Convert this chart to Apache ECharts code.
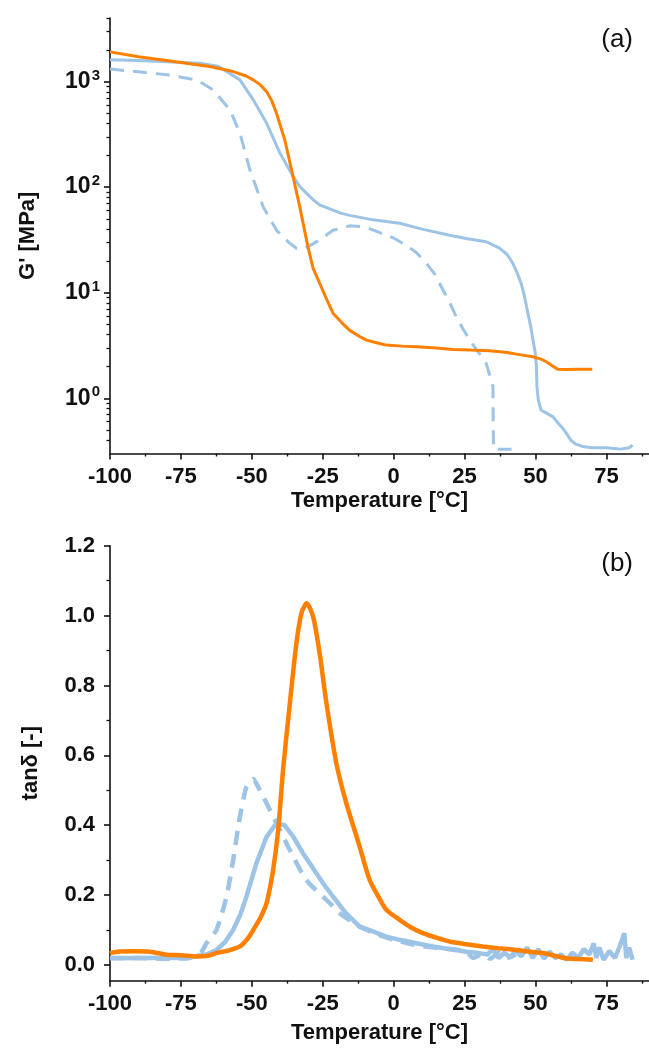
<!DOCTYPE html>
<html><head><meta charset="utf-8">
<script src="https://cdn.jsdelivr.net/npm/echarts@6/dist/echarts.min.js"></script>
<style>html,body{margin:0;padding:0;background:#fff}#c{width:649px;height:1061px}</style>
</head><body><div id="c"></div>
<script>
// ---- tick labels ----
const tempTicks = [-100, -75, -50, -25, 0, 25, 50, 75];
const tempMinorTicks = [-87.5, -62.5, -37.5, -12.5, 12.5, 37.5, 62.5, 87.5];
const gTicks = [1, 10, 100, 1000];
const gMinorTicks = [0.4,0.5,0.6,0.7,0.8,0.9,2,3,4,5,6,7,8,9,20,30,40,50,60,70,80,90,200,300,400,500,600,700,800,900,2000,3000,4000];
const tanTicks = [0, 0.2, 0.4, 0.6, 0.8, 1.0, 1.2];
const tanMinorTicks = [0.1, 0.3, 0.5, 0.7, 0.9, 1.1];

// ---- (a) storage modulus G' [MPa] ----
const gOrangeT = [-100,-90,-80,-70,-64.8,-56.6,-52,-49.5,-47,-44.8,-43,-41.3,-38.4,-36,-33.1,-30.2,-28.4,-26.1,-23.5,-21.4,-18,-15.5,-12,-9.6,-5,-2.6,3,8,15,20.9,27,33.8,40,43.2,46,49.1,52,53.8,56,57.9,60.8,65,70];
const gOrange  = [1911,1720,1580,1450,1388,1244,1130,1038,930,803,660,501,280,146,65,27,17,12.3,8.5,6.4,5.1,4.4,3.85,3.56,3.3,3.19,3.12,3.08,3.0,2.9,2.86,2.82,2.72,2.62,2.55,2.47,2.35,2.22,2.02,1.88,1.87,1.88,1.88];

const gBlueT = [-100,-90,-80,-68.3,-62,-58.9,-54.2,-49.5,-44.8,-40.1,-35.4,-33.1,-28.4,-26.1,-19,-15.5,-7.3,2.1,10,19.7,26,32.6,37.3,40,42,43.5,44.9,46,47.3,48.3,49.1,50,50.3,50.5,51,52,54,56.1,58,59.6,61,62.5,64,66.5,70,75,80,83,84.2];
const gBlue  = [1607,1580,1540,1494,1400,1244,1038,671,404,210,126,101,76,68,57,54,49,45.5,40,35,32.5,30.4,26.4,23,19,15.5,12.3,9.5,6.4,4.8,3.56,2.6,2.0,1.29,0.95,0.77,0.72,0.67,0.58,0.52,0.46,0.4,0.37,0.35,0.34,0.34,0.33,0.34,0.36];

const gBlueDashT = [-100,-90,-80,-69.5,-63.6,-57.7,-54.2,-50.7,-46,-41.3,-37,-34.3,-31.9,-29,-26.1,-21.4,-15.5,-10,-4.9,0,4.5,8,11.5,14.5,17.4,20,22.1,24.5,26.8,30,32.6,34,35,35.1,35.2,37,40,43];
const gBlueDash  = [1312,1240,1158,1038,834,538,324,146,65,39,30,26.4,26,28.5,31.6,39,43,42,37,33,28,24,19,15,10.6,7.8,5.9,4.5,3.56,2.7,2.14,1.6,1.29,0.5,0.33,0.33,0.33,0.33];

// ---- (b) tan delta ----
const tOrangeT = [-100,-97.6,-92,-85.9,-80,-75,-69.5,-65,-62.5,-58,-54.2,-51.5,-49.5,-47,-44.8,-42.5,-40.7,-39,-36.6,-34.3,-32.5,-30.7,-28.4,-26.1,-23.7,-20.2,-16.7,-12,-8.5,-5,-2.6,2.1,6,10.3,15,19.7,25,31.4,37,43.2,48,52.6,56,60.8,65,70.2];
const tOrange  = [0.034,0.038,0.039,0.038,0.029,0.028,0.024,0.027,0.034,0.042,0.053,0.075,0.10,0.135,0.177,0.272,0.387,0.558,0.749,0.92,1.007,1.035,0.997,0.892,0.749,0.577,0.463,0.339,0.244,0.19,0.158,0.129,0.108,0.091,0.078,0.067,0.06,0.053,0.048,0.043,0.038,0.034,0.028,0.019,0.017,0.015];

const tBlueT = [-100,-90,-80,-75,-70.7,-66,-62.5,-59.5,-56.6,-54,-51.9,-48.4,-44.8,-41.3,-38.5,-35.4,-32,-29.6,-25,-21.4,-17,-12,-8.5,-2.6,2.1,8,13.8,20,25.6,30,33,35,37,39,41,43,45,47,49,51,53,55,57,59,61,63,65,67,69,70.5,71.4,72.5,74,76,78,80,81.3,82,83,84.2];
const tBlue  = [0.019,0.02,0.021,0.02,0.024,0.03,0.043,0.065,0.10,0.145,0.196,0.291,0.367,0.406,0.4,0.367,0.32,0.291,0.235,0.196,0.15,0.11,0.10,0.081,0.072,0.062,0.053,0.045,0.038,0.034,0.03,0.045,0.02,0.035,0.022,0.04,0.025,0.05,0.02,0.045,0.018,0.038,0.02,0.03,0.015,0.035,0.02,0.045,0.03,0.062,0.02,0.05,0.015,0.04,0.02,0.06,0.091,0.02,0.05,0.015];

const tBlueDashT = [-100,-90,-80,-72,-68,-66,-62.5,-58.9,-56.6,-54.2,-51.9,-49.5,-47.2,-44.8,-41.3,-36.6,-30.8,-22.5,-19,-12,-5,0,6,12,18,23.2,26,28,31,34,37,40,43];
const tBlueDash  = [0.02,0.02,0.018,0.02,0.035,0.062,0.10,0.196,0.30,0.425,0.51,0.532,0.50,0.463,0.406,0.329,0.243,0.177,0.148,0.11,0.085,0.072,0.06,0.052,0.047,0.043,0.035,0.02,0.03,0.018,0.035,0.02,0.03];

const BLUE = '#9dc3e6', ORANGE = '#ff8000';
const FONT = 'Liberation Sans, Arial, sans-serif';
const zip = (a, b) => a.map((x, i) => [x, b[i]]);

const axisLineStyle = { color: '#111', width: 1.6 };
const boldText = { fontFamily: FONT, fontWeight: 'bold', fontSize: 22, color: '#111' };

function xMain(grid, nameGap) {
  return {
    gridIndex: grid, type: 'value', min: -100, max: 90,
    name: 'Temperature [°C]', nameLocation: 'middle', nameGap: nameGap,
    nameTextStyle: boldText,
    axisLine: { show: true, onZero: false, lineStyle: axisLineStyle },
    axisTick: { show: true, inside: false, length: 6, customValues: tempTicks, lineStyle: { color: '#111', width: 1.6 } },
    axisLabel: { show: true, customValues: tempTicks, margin: 12, fontFamily: FONT, fontWeight: 'bold', fontSize: 22, color: '#111' },
    splitLine: { show: false }
  };
}
function xMinor(grid) {
  return {
    gridIndex: grid, type: 'value', min: -100, max: 90, position: 'bottom',
    axisLine: { show: false, onZero: false },
    axisTick: { show: true, inside: false, length: 3, customValues: tempMinorTicks, lineStyle: { color: '#111', width: 1.4 } },
    axisLabel: { show: false }, splitLine: { show: false }
  };
}

const option = {
  animation: false,
  backgroundColor: '#fff',
  title: [
    { text: '(a)', right: 11, top: 22, textStyle: { fontFamily: FONT, fontWeight: 'normal', fontSize: 26, color: '#111' } },
    { text: '(b)', right: 11, top: 546, textStyle: { fontFamily: FONT, fontWeight: 'normal', fontSize: 26, color: '#111' } }
  ],
  grid: [
    { left: 110, top: 18, width: 541, height: 435.5 },
    { left: 110, top: 545.7, width: 541, height: 435 }
  ],
  xAxis: [ xMain(0, 36), xMinor(0), xMain(1, 41), xMinor(1) ],
  yAxis: [
    {
      gridIndex: 0, type: 'log', logBase: 10, min: 0.3, max: 4000,
      name: "G' [MPa]", nameLocation: 'middle', nameGap: 71, nameTextStyle: boldText,
      axisLine: { show: true, onZero: false, lineStyle: axisLineStyle },
      axisTick: { show: true, inside: false, length: 6, customValues: gTicks, lineStyle: { color: '#111', width: 1.6 } },
      axisLabel: {
        show: true, customValues: gTicks, margin: 10,
        formatter: v => '{b|10}{s|' + Math.round(Math.log10(v)) + '}',
        rich: {
          b: { fontFamily: FONT, fontWeight: 'bold', fontSize: 23, color: '#111' },
          s: { fontFamily: FONT, fontWeight: 'bold', fontSize: 15, color: '#111', padding: [0, 0, 12, 1] }
        }
      },
      splitLine: { show: false }
    },
    {
      gridIndex: 0, type: 'log', logBase: 10, min: 0.3, max: 4000, position: 'left',
      axisLine: { show: false, onZero: false },
      axisTick: { show: true, inside: false, length: 3.5, customValues: gMinorTicks, lineStyle: { color: '#111', width: 1.3 } },
      axisLabel: { show: false }, splitLine: { show: false }
    },
    {
      gridIndex: 1, type: 'value', min: -0.045, max: 1.2,
      name: 'tanδ [-]', nameLocation: 'middle', nameGap: 68, nameTextStyle: boldText,
      axisLine: { show: true, onZero: false, lineStyle: axisLineStyle },
      axisTick: { show: true, inside: false, length: 6, customValues: tanTicks, lineStyle: { color: '#111', width: 1.6 } },
      axisLabel: { show: true, customValues: tanTicks, margin: 15, formatter: v => v.toFixed(1), fontFamily: FONT, fontWeight: 'bold', fontSize: 22, color: '#111' },
      splitLine: { show: false }
    },
    {
      gridIndex: 1, type: 'value', min: -0.045, max: 1.2, position: 'left',
      axisLine: { show: false, onZero: false },
      axisTick: { show: true, inside: false, length: 3.5, customValues: tanMinorTicks, lineStyle: { color: '#111', width: 1.3 } },
      axisLabel: { show: false }, splitLine: { show: false }
    }
  ],
  series: [
    { type: 'line', xAxisIndex: 0, yAxisIndex: 0, showSymbol: false, data: zip(gBlueDashT, gBlueDash), lineStyle: { color: BLUE, width: 3, type: [14, 9] } },
    { type: 'line', xAxisIndex: 0, yAxisIndex: 0, showSymbol: false, data: zip(gBlueT, gBlue), lineStyle: { color: BLUE, width: 3 } },
    { type: 'line', xAxisIndex: 0, yAxisIndex: 0, showSymbol: false, data: zip(gOrangeT, gOrange), lineStyle: { color: ORANGE, width: 3 } },
    { type: 'line', xAxisIndex: 2, yAxisIndex: 2, showSymbol: false, smooth: 0.2, data: zip(tBlueDashT, tBlueDash), lineStyle: { color: BLUE, width: 4.5, type: [14, 9] } },
    { type: 'line', xAxisIndex: 2, yAxisIndex: 2, showSymbol: false, data: zip(tBlueT, tBlue), lineStyle: { color: BLUE, width: 4.5 } },
    { type: 'line', xAxisIndex: 2, yAxisIndex: 2, showSymbol: false, smooth: 0.25, data: zip(tOrangeT, tOrange), lineStyle: { color: ORANGE, width: 4.5 } }
  ]
};
const chart = echarts.init(document.getElementById('c'), null, { renderer: 'canvas' });
chart.setOption(option);
</script>
</body></html>
